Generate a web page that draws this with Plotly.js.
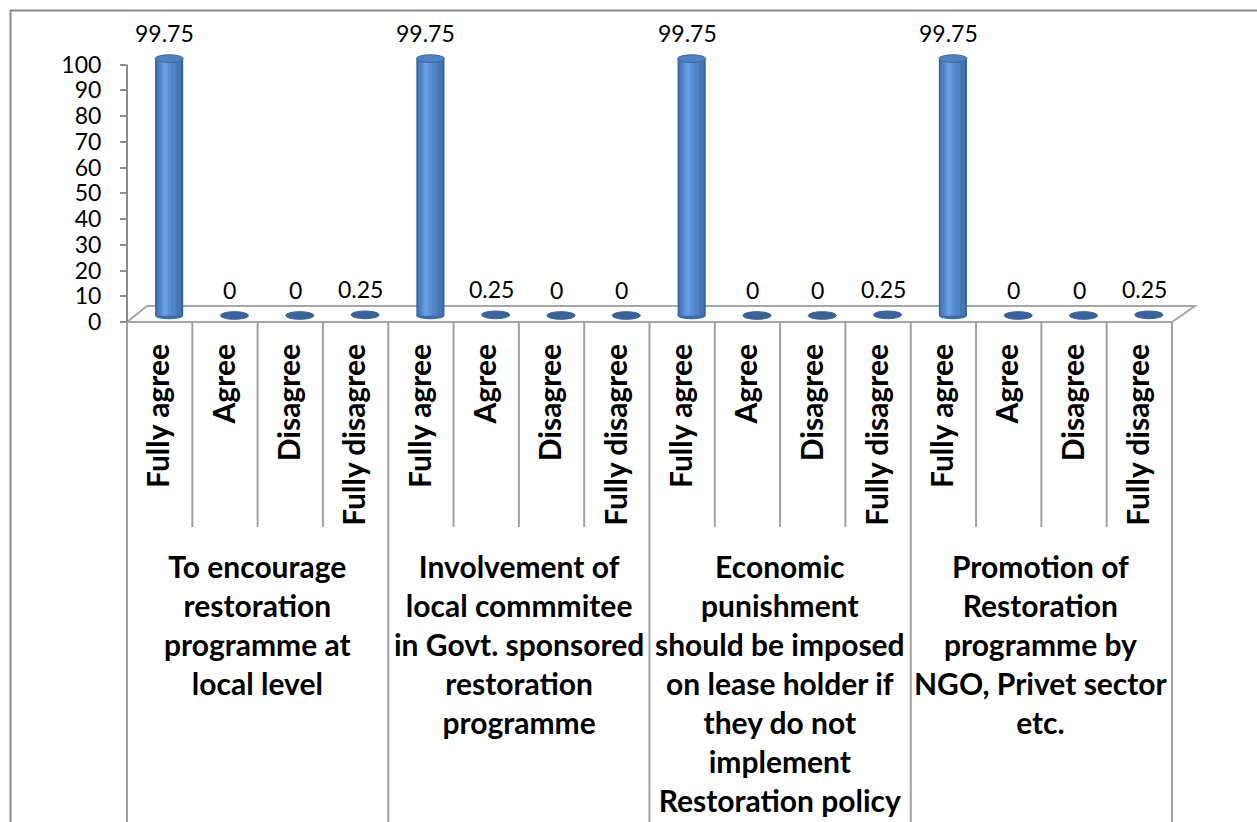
<!DOCTYPE html>
<html>
<head>
<meta charset="utf-8">
<script src="https://cdn.plot.ly/plotly-3.0.1.min.js"></script>
<style>html,body{margin:0;padding:0;background:#fff;}#chart{width:1257px;height:822px;}</style>
</head>
<body>
<div id="chart"></div>
<script>
// ---------- data ----------
const responses = ['Fully agree', 'Agree', 'Disagree', 'Fully disagree'];
const statements = [
  'To encourage<br>restoration<br>programme at<br>local level',
  'Involvement of<br>local commmitee<br>in Govt. sponsored<br>restoration<br>programme',
  'Economic<br>punishment<br>should be imposed<br>on lease holder if<br>they do not<br>implement<br>Restoration policy',
  'Promotion of<br>Restoration<br>programme by<br>NGO, Privet sector<br>etc.'
];
const encourageLocal   = [99.75, 0, 0, 0.25];
const committeeInvolve = [99.75, 0.25, 0, 0];
const economicPunish   = [99.75, 0, 0, 0.25];
const promotionNGO     = [99.75, 0, 0, 0.25];
const yTicks = [0, 10, 20, 30, 40, 50, 60, 70, 80, 90, 100];

// ---------- derived ----------
const groupValues = [encourageLocal, committeeInvolve, economicPunish, promotionNGO];
const values = [].concat(...groupValues);
const labels = [];
statements.forEach(() => responses.forEach(r => labels.push(r)));
const xs = values.map((_, i) => i);
const nCat = values.length;

// ---------- geometry (pixels) ----------
const W = 1257, H = 822;
const PL = 127, PR = 1172, PT = 20, PB = 322;
const pxPerUnit = 2.575;
const yMax = (PB - PT) / pxPerUnit;
const depthY = 6.5 / pxPerUnit;            // 3D depth shift of cylinders (y)
const catPx = (PR - PL) / nCat;
const depthX = 9.5 / catPx;                // 3D depth shift of cylinders (x)
const px2paperX = p => (p - PL) / (PR - PL);
const px2paperY = p => (PB - p) / (PB - PT);

const font = 'Lato, "Open Sans", sans-serif';

// cylinder shading layers
function layer(width, shift, color) {
  return {
    type: 'bar', x: xs, y: values, xaxis: 'x2', yaxis: 'y2',
    width: xs.map(() => width), offset: xs.map(() => -width / 2 + shift),
    marker: { color: color, line: { width: 0 } },
    hoverinfo: 'skip', showlegend: false
  };
}
const traces = [
  layer(0.43, 0, '#36629b'),
  layer(0.38, -0.005, '#4676b4'),
  layer(0.28, -0.03, '#4f83c5'),
  layer(0.16, -0.05, '#5b91d4'),
  layer(0.07, -0.06, '#66a0e2')
];

const shapes = [];
// chart border
shapes.push({ type: 'line', xref: 'paper', yref: 'paper', x0: px2paperX(10), x1: px2paperX(W), y0: px2paperY(10.5), y1: px2paperY(10.5), line: { color: '#8a8a8a', width: 2 } });
shapes.push({ type: 'line', xref: 'paper', yref: 'paper', x0: px2paperX(10.5), x1: px2paperX(10.5), y0: px2paperY(10), y1: px2paperY(H), line: { color: '#8a8a8a', width: 2 } });
// 3D floor
const fl = [[PL, PB], [PL + 20, PB - 16], [PR + 23, PB - 16], [PR, PB]];
shapes.push({ type: 'path', xref: 'paper', yref: 'paper', layer: 'below',
  path: 'M' + fl.map(p => px2paperX(p[0]) + ',' + px2paperY(p[1])).join(' L') + ' Z',
  line: { color: '#a6a6a6', width: 2 }, fillcolor: 'rgba(0,0,0,0)' });
// value axis line
shapes.push({ type: 'line', xref: 'paper', yref: 'y', x0: 0, x1: 0, y0: 0, y1: 100, line: { color: '#8c8c8c', width: 2 } });
// category dividers
for (let k = 0; k <= nCat; k++) {
  const isGroup = k % responses.length === 0;
  shapes.push({ type: 'line', xref: 'paper', yref: 'paper', x0: k / nCat, x1: k / nCat,
    y0: 0, y1: px2paperY(isGroup ? H : 527), line: { color: '#a0a0a0', width: 2 } });
}
// cylinder bottoms and tops
const rx = 0.215, ry = 1.5;
values.forEach((v, i) => {
  if (v > 1) {
    shapes.push({ type: 'circle', xref: 'x2', yref: 'y2', layer: 'below',
      x0: i - rx, x1: i + rx, y0: -ry, y1: ry, fillcolor: '#3f6ca7', line: { width: 0 } });
  }
  shapes.push({ type: 'circle', xref: 'x2', yref: 'y2', layer: 'above',
    x0: i - rx, x1: i + rx, y0: v - ry, y1: v + ry,
    fillcolor: v > 1 ? '#4f82c3' : '#3a6399', line: { color: v > 1 ? '#3a679f' : '#3a6399', width: 1 } });
});

// annotations: value labels + group labels
const annotations = values.map((v, i) => ({
  xref: 'x', yref: 'y2', x: i, y: v, xshift: 5, yshift: 10, yanchor: 'bottom', xanchor: 'center',
  text: String(v), showarrow: false, font: { family: font, size: 23, color: '#000' }
}));
statements.forEach((s, g) => {
  annotations.push({
    xref: 'paper', yref: 'paper', x: (g * responses.length + responses.length / 2) / nCat,
    y: px2paperY(546), yanchor: 'top', xanchor: 'center', align: 'center',
    text: s, showarrow: false, font: { family: font, size: 30, weight: 700, color: '#000' }
  });
});

const layout = {
  width: W, height: H,
  margin: { l: PL, r: W - PR, t: PT, b: H - PB, pad: 0 },
  paper_bgcolor: '#fff', plot_bgcolor: 'rgba(0,0,0,0)',
  showlegend: false, barmode: 'overlay',
  xaxis: {
    range: [-0.5, nCat - 0.5], tickmode: 'array', tickvals: xs, ticktext: labels,
    tickangle: -90, ticks: '', showgrid: false, zeroline: false, showline: false,
    ticklabelstandoff: 15, automargin: false,
    tickfont: { family: font, size: 30, weight: 700, color: '#000' }
  },
  yaxis: {
    range: [0, yMax], tickmode: 'array', tickvals: yTicks, ticks: 'outside', ticklen: 6,
    tickwidth: 2, tickcolor: '#8c8c8c', showgrid: false, zeroline: false, showline: false,
    ticklabelstandoff: 14, automargin: false,
    tickfont: { family: font, size: 23, color: '#000' }
  },
  xaxis2: { overlaying: 'x', range: [-0.5 - depthX, nCat - 0.5 - depthX], visible: false },
  yaxis2: { overlaying: 'y', range: [-depthY, yMax - depthY], visible: false },
  shapes: shapes, annotations: annotations
};

Plotly.newPlot('chart', traces, layout, { staticPlot: true, displayModeBar: false });
</script>
</body>
</html>
